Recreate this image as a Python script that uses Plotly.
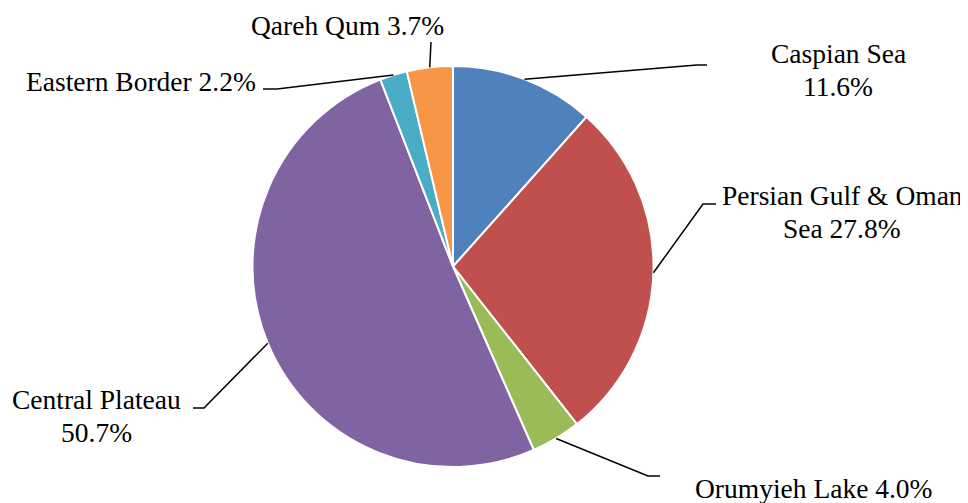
import math
import plotly.graph_objects as go

# regions and their shares (%), clockwise from 12 o'clock
regions = ["Caspian Sea", "Persian Gulf & Oman Sea", "Orumyieh Lake",
           "Central Plateau", "Eastern Border", "Qareh Qum"]
shares = [11.6, 27.8, 4.0, 50.7, 2.2, 3.7]
label_lines = [["Caspian Sea", "11.6%"], ["Persian Gulf & Oman", "Sea 27.8%"],
               ["Orumyieh Lake 4.0%"], ["Central Plateau", "50.7%"],
               ["Eastern Border 2.2%"], ["Qareh Qum 3.7%"]]
slice_colors = ["#4F81BD", "#C0504D", "#9BBB59", "#8064A2", "#4BACC6", "#F79646"]

# page has an 8px body margin, so the figure sits at (8, 8) in the window
OFF = 8
W, H = 968 - OFF, 503 - OFF
CX, CY, R = 453, 266.5, 200.5   # pie centre / radius in window pixels
LINE_GAP = 33                   # spacing between label lines

# label centres (first line) and leader-line elbow / end points (window pixels)
label_pos = [(838, 53), (842, 195.5), (814, 488), (96, 399.5), (141, 81.5), (347, 25)]
elbows = [(697, 65), (703, 204), (648, 476), (204, 408), (277, 89), (431, 42)]
ends = [(707, 65), (716, 204), (660, 476), (193, 408), (263, 89), (431, 42)]


def px(x):
    return (x - OFF) / W


def py(y):
    return 1 - (y - OFF) / H


fig = go.Figure(go.Pie(
    labels=regions,
    values=shares,
    sort=False,
    direction="clockwise",
    rotation=0,
    textinfo="none",
    marker=dict(colors=slice_colors, line=dict(color="white", width=2)),
    domain=dict(x=[px(CX - R), px(CX + R)], y=[py(CY + R), py(CY - R)]),
    showlegend=False,
))

total = sum(shares)
cum = 0
shapes = []
annotations = []
for i, v in enumerate(shares):
    mid = (cum + v / 2) / total * 2 * math.pi
    cum += v
    sx = CX + R * math.sin(mid)
    sy = CY - R * math.cos(mid)
    ex, ey = elbows[i]
    fx, fy = ends[i]
    shapes.append(dict(
        type="path", xref="paper", yref="paper",
        path=f"M {px(sx)},{py(sy)} L {px(ex)},{py(ey)} L {px(fx)},{py(fy)}",
        line=dict(color="black", width=1.5),
    ))
    lx, ly = label_pos[i]
    for j, line in enumerate(label_lines[i]):
        annotations.append(dict(
            x=px(lx), y=py(ly + j * LINE_GAP), xref="paper", yref="paper",
            text=line, showarrow=False,
            xanchor="center", yanchor="middle", align="center",
            font=dict(family="Liberation Serif, Times New Roman, serif",
                      size=27.5, color="black"),
        ))

fig.update_layout(
    width=W, height=H,
    margin=dict(l=0, r=0, t=0, b=0),
    paper_bgcolor="white",
    shapes=shapes,
    annotations=annotations,
)

fig.write_html("out.html")
